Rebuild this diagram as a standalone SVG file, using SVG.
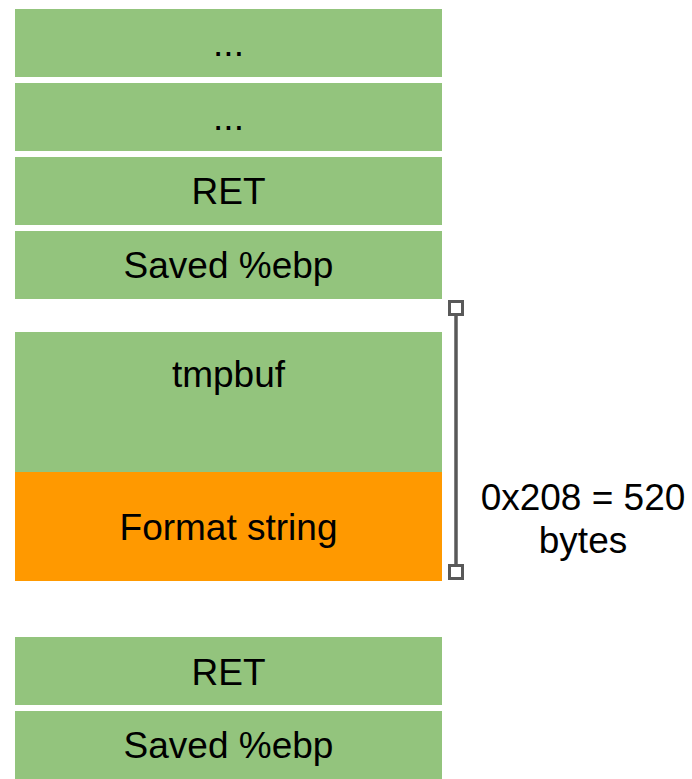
<svg xmlns="http://www.w3.org/2000/svg" width="692" height="779" viewBox="0 0 692 779">
<style>
.g{fill:#93c47d}
.o{fill:#ff9900}
.t{font-family:"Liberation Sans",Arial,sans-serif;font-size:37px;fill:#000;text-anchor:middle}
.cap{fill:#fff;stroke:#595959;stroke-width:3}
</style>
<rect width="692" height="779" fill="#fff"/>
<g id="slot1"><rect class="g" x="15" y="9" width="427" height="68"/><text class="t" x="228.5" y="56">...</text></g>
<g id="slot2"><rect class="g" x="15" y="83" width="427" height="68"/><text class="t" x="228.5" y="130">...</text></g>
<g id="ret1"><rect class="g" x="15" y="157" width="427" height="68"/><text class="t" x="228.5" y="204">RET</text></g>
<g id="ebp1"><rect class="g" x="15" y="231" width="427" height="68"/><text class="t" x="228.5" y="278">Saved %ebp</text></g>
<g id="tmpbuf"><rect class="g" x="15" y="332" width="427" height="140"/><text class="t" x="228.5" y="387">tmpbuf</text></g>
<g id="fmt"><rect class="o" x="15" y="472" width="427" height="109"/><text class="t" x="228.5" y="540">Format string</text></g>
<g id="ret2"><rect class="g" x="15" y="637" width="427" height="68"/><text class="t" x="228.5" y="685">RET</text></g>
<g id="ebp2"><rect class="g" x="15" y="711" width="427" height="68"/><text class="t" x="228.5" y="758">Saved %ebp</text></g>
<g id="connectors">
<line x1="456" y1="308" x2="456" y2="572" stroke="#595959" stroke-width="3.5"/>
<rect class="cap" x="449.5" y="301.5" width="13" height="13"/>
<rect class="cap" x="449.5" y="565.5" width="13" height="13"/>
</g>
<g id="size-label"><text class="t" x="583" y="510">0x208 = 520</text><text class="t" x="583" y="553">bytes</text></g>
</svg>
